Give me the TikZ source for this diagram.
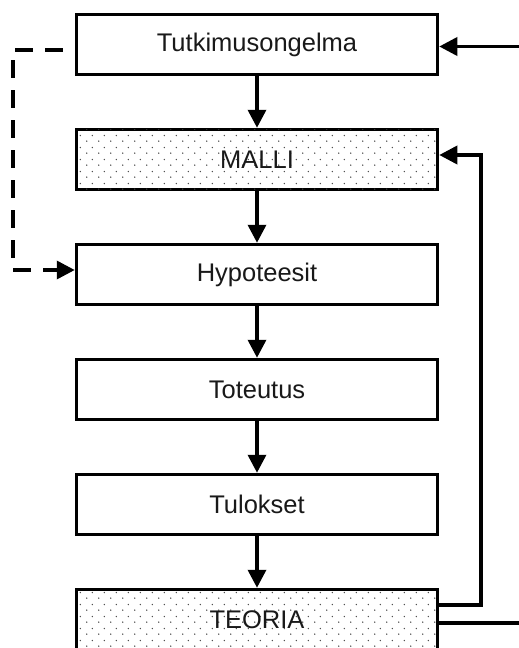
\documentclass[tikz,border=0pt]{standalone}
\usepackage{fontspec}
\setmainfont{Liberation Sans}
\usetikzlibrary{arrows.meta,patterns.meta}
\tikzdeclarepattern{name=sdots, type=uncolored,
  bounding box={(0pt,0pt) and (12pt,12pt)}, tile size={(12pt,12pt)},
  code={\fill (3pt,3pt) circle (0.8pt); \fill (9pt,9pt) circle (0.8pt);}}
\begin{document}
\begin{tikzpicture}[x=1pt,y=-1pt,
  box/.style={draw, line width=3.5pt, minimum width=361pt, minimum height=60pt,
    inner sep=0pt, fill=white, text=black!90, font=\fontsize{25.5}{30}\selectfont},
  shaded/.style={box, postaction={pattern=sdots, pattern color=black!75}},
  plain/.style={line width=3.5pt},
  link/.style={plain, -{Triangle[length=18pt,width=18pt]}},
  dlink/.style={link, dash pattern=on 18pt off 12pt, dash phase=18pt}]
\useasboundingbox (0,0) rectangle (519,648);
\clip (0,0) rectangle (519,648);
\node[box] (t) at (257,44.5) {Tutkimusongelma};
\node[shaded] (m) at (257,159.5) {MALLI};
\node[box] (h) at (257,274.5) {Hypoteesit};
\node[box] (to) at (257,389.5) {Toteutus};
\node[box] (tu) at (257,504.5) {Tulokset};
\node[shaded] (te) at (257,619.5) {TEORIA};
\draw[link] (t) -- (m);
\draw[link] (m) -- (h);
\draw[link] (h) -- (to);
\draw[link] (to) -- (tu);
\draw[link] (tu) -- (te);
\coordinate (dl1) at (13,50);
\coordinate (dl2) at (13,270);
\draw[dlink] ([yshift=-5.5pt]t.west) -- (dl1) -- (dl2) -- ([yshift=4.5pt]h.west);
\coordinate (rin) at (519,46.5);
\draw[link] (rin) -- (t.east |- rin);
\coordinate (fb1) at (481,605);
\coordinate (fb2) at (481,155);
\draw[link] (te.east |- fb1) -- (fb1) -- (fb2) -- (m.east |- fb2);
\coordinate (rout) at (519,623);
\draw[plain] (te.east |- rout) -- (rout);
\end{tikzpicture}
\end{document}
